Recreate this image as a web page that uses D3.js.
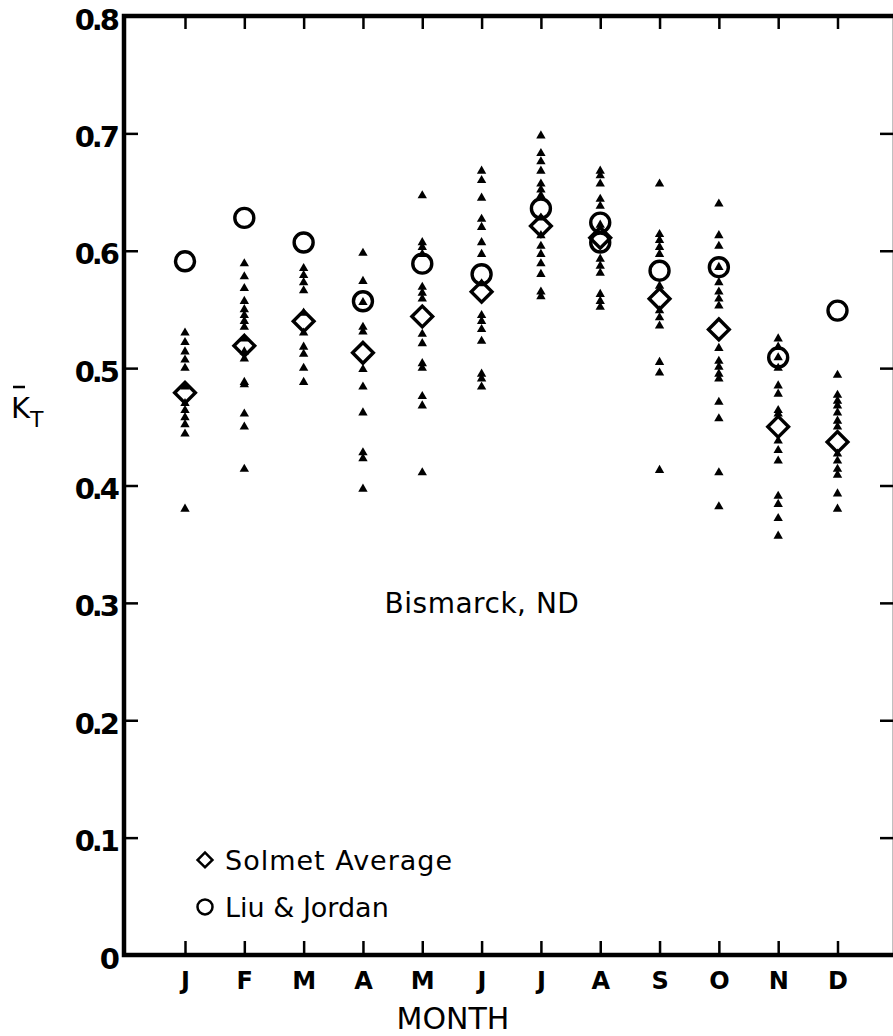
<!DOCTYPE html>
<html>
<head>
<meta charset="utf-8">
<script src="https://cdn.jsdelivr.net/npm/d3@7"></script>
<style>
  body { margin: 0; background: #fff; }
  svg { display: block; }
  text { font-family: "DejaVu Sans", sans-serif; fill: #000; }
</style>
</head>
<body>
<svg id="chart"></svg>
<script>
// month labels along the bottom
var months = ["J", "F", "M", "A", "M", "J", "J", "A", "S", "O", "N", "D"];
var yTicks = [0, 0.1, 0.2, 0.3, 0.4, 0.5, 0.6, 0.7, 0.8];

// individual yearly monthly values (small triangles), one list per month
var yearly = [
    [0.530, 0.522, 0.514, 0.507, 0.500, 0.484, 0.470, 0.464, 0.458, 0.452, 0.444, 0.380],
    [0.589, 0.578, 0.568, 0.557, 0.550, 0.545, 0.540, 0.535, 0.525, 0.514, 0.508, 0.488, 0.486, 0.461, 0.450, 0.414],
    [0.585, 0.579, 0.573, 0.566, 0.547, 0.530, 0.518, 0.512, 0.500, 0.488],
    [0.598, 0.574, 0.556, 0.535, 0.531, 0.499, 0.484, 0.462, 0.428, 0.423, 0.397],
    [0.647, 0.607, 0.603, 0.597, 0.569, 0.564, 0.559, 0.529, 0.521, 0.504, 0.500, 0.476, 0.468, 0.411],
    [0.668, 0.660, 0.645, 0.627, 0.620, 0.607, 0.597, 0.572, 0.545, 0.540, 0.533, 0.523, 0.495, 0.491, 0.484],
    [0.698, 0.683, 0.676, 0.668, 0.657, 0.652, 0.647, 0.628, 0.613, 0.604, 0.597, 0.589, 0.580, 0.565, 0.561],
    [0.668, 0.664, 0.657, 0.644, 0.638, 0.622, 0.593, 0.587, 0.581, 0.563, 0.557, 0.552],
    [0.657, 0.614, 0.609, 0.603, 0.597, 0.570, 0.549, 0.543, 0.536, 0.505, 0.496, 0.413],
    [0.640, 0.613, 0.604, 0.586, 0.573, 0.565, 0.559, 0.553, 0.517, 0.506, 0.501, 0.495, 0.491, 0.471, 0.457, 0.411, 0.382],
    [0.525, 0.518, 0.509, 0.500, 0.485, 0.478, 0.464, 0.461, 0.438, 0.430, 0.421, 0.391, 0.384, 0.372, 0.357],
    [0.494, 0.477, 0.472, 0.468, 0.462, 0.455, 0.450, 0.427, 0.421, 0.414, 0.409, 0.393, 0.380]
];

// Solmet average (diamonds)
var solmet = [0.479, 0.519, 0.540, 0.513, 0.544, 0.565, 0.621, 0.611, 0.559, 0.533, 0.450, 0.437];

// Liu & Jordan (circles) - August has two
var liuMonth = [0, 1, 2, 3, 4, 5, 6, 7, 7, 8, 9, 10, 11];
var liuJordan = [0.591, 0.628, 0.607, 0.557, 0.589, 0.580, 0.636, 0.624, 0.607, 0.583, 0.586, 0.509, 0.549];

var svgWidth = 893, svgHeight = 1036;
var margin = { left: 124, top: 16, right: 895, bottom: 955 };

var svg = d3.select("#chart")
    .attr("width", svgWidth)
    .attr("height", svgHeight);

var x = d3.scaleLinear()
    .domain([0, 11])
    .range([185, 837.5]);

var y = d3.scaleLinear()
    .domain([0, 0.8])
    .range([margin.bottom, margin.top]);

function yFmt(d) { return d === 0 ? "0" : d3.format(".1f")(d); }

// left axis with labels, ticks pointing inward
var gl = svg.append("g")
    .attr("transform", "translate(" + margin.left + ",0)")
    .call(d3.axisLeft(y).tickValues(yTicks).tickSize(-14).tickSizeOuter(0).tickPadding(7).tickFormat(yFmt));
gl.selectAll("text")
    .attr("font-size", "29px")
    .attr("font-weight", "bold")
    .attr("letter-spacing", "-3px")
    .attr("dy", "0.45em");

// right axis, ticks only
svg.append("g")
    .attr("transform", "translate(" + margin.right + ",0)")
    .call(d3.axisRight(y).tickValues(yTicks.slice(1, 8)).tickSize(-15).tickSizeOuter(0).tickFormat(""));

// bottom axis with month letters
var gb = svg.append("g")
    .attr("transform", "translate(0," + margin.bottom + ")")
    .call(d3.axisBottom(x).tickValues(d3.range(12)).tickSize(-14).tickSizeOuter(0).tickPadding(17)
        .tickFormat(function(i) { return months[i]; }));
gb.selectAll("text")
    .attr("font-size", "24px")
    .attr("font-weight", "bold");

// top axis, ticks only
svg.append("g")
    .attr("transform", "translate(0," + margin.top + ")")
    .call(d3.axisTop(x).tickValues(d3.range(12)).tickSize(-13).tickSizeOuter(0).tickFormat(""));

svg.selectAll(".domain").remove();
svg.selectAll(".tick line")
    .attr("stroke", "#000")
    .attr("stroke-width", 2.5);

// frame
svg.append("rect")
    .attr("x", margin.left)
    .attr("y", margin.top)
    .attr("width", margin.right - margin.left)
    .attr("height", margin.bottom - margin.top)
    .attr("fill", "none")
    .attr("stroke", "#000")
    .attr("stroke-width", 4.5);

// triangles
var tri = d3.symbol().type(d3.symbolTriangle).size(38);
var pts = [];
yearly.forEach(function(list, i) {
    list.forEach(function(v) { pts.push({ m: i, v: v }); });
});
svg.append("g").selectAll("path")
    .data(pts)
    .enter().append("path")
    .attr("d", tri)
    .attr("transform", function(d) { return "translate(" + x(d.m) + "," + y(d.v) + ")"; })
    .attr("fill", "#000");

// diamonds
var dia = d3.symbol().type(d3.symbolSquare).size(215);
svg.append("g").selectAll("path")
    .data(solmet)
    .enter().append("path")
    .attr("d", dia)
    .attr("transform", function(d, i) { return "translate(" + x(i) + "," + y(d) + ") rotate(45)"; })
    .attr("fill", "none")
    .attr("stroke", "#000")
    .attr("stroke-width", 3.4);

// circles
svg.append("g").selectAll("circle")
    .data(liuJordan)
    .enter().append("circle")
    .attr("cx", function(d, i) { return x(liuMonth[i]); })
    .attr("cy", function(d) { return y(d); })
    .attr("r", 9.5)
    .attr("fill", "none")
    .attr("stroke", "#000")
    .attr("stroke-width", 3.4);

// station name
svg.append("text")
    .attr("x", 482)
    .attr("y", y(0.3) + 10)
    .attr("text-anchor", "middle")
    .attr("font-size", "28px")
    .attr("letter-spacing", "0.5px")
    .text("Bismarck, ND");

// legend
var leg = svg.append("g");
leg.append("path")
    .attr("d", d3.symbol().type(d3.symbolSquare).size(110))
    .attr("transform", "translate(205," + y(0.081) + ") rotate(45)")
    .attr("fill", "none")
    .attr("stroke", "#000")
    .attr("stroke-width", 2.5);
leg.append("text")
    .attr("x", 225)
    .attr("y", y(0.081) + 10)
    .attr("font-size", "27px")
    .attr("letter-spacing", "1px")
    .text("Solmet Average");
leg.append("circle")
    .attr("cx", 205)
    .attr("cy", y(0.041))
    .attr("r", 7.5)
    .attr("fill", "none")
    .attr("stroke", "#000")
    .attr("stroke-width", 2.5);
leg.append("text")
    .attr("x", 225)
    .attr("y", y(0.041) + 10)
    .attr("font-size", "27px")
    .text("Liu & Jordan");

// axis titles
svg.append("text")
    .attr("x", 453)
    .attr("y", 1029)
    .attr("text-anchor", "middle")
    .attr("font-size", "30px")
    .text("MONTH");

var yl = svg.append("text")
    .attr("x", 11)
    .attr("y", 418)
    .attr("font-size", "29px");
yl.append("tspan").text("K");
yl.append("tspan").attr("font-size", "22px").attr("dy", 9).text("T");
svg.append("line")
    .attr("x1", 13).attr("x2", 25)
    .attr("y1", 387).attr("y2", 387)
    .attr("stroke", "#000")
    .attr("stroke-width", 2.5);
</script>
</body>
</html>
